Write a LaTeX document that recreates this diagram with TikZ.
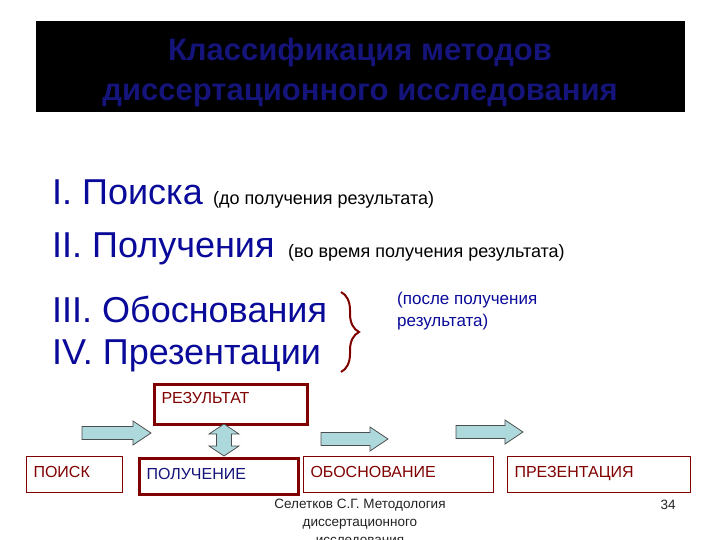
\documentclass[tikz,border=0pt]{standalone}
\usepackage{fontspec}
\setmainfont{Liberation Sans}
\usepackage{tikz}
\usetikzlibrary{positioning,decorations.pathreplacing}
\definecolor{navy}{HTML}{0A0A9A}
\definecolor{titlec}{HTML}{14147A}
\definecolor{darkred}{HTML}{800000}
\definecolor{arrowc}{HTML}{ADD8DC}
\definecolor{arrowline}{HTML}{4D4D4D}
\definecolor{footc}{HTML}{222222}
\newcommand{\blockarrow}[3]{%
  \filldraw[fill=arrowc,draw=arrowline,line width=0.8pt] (#1,{#3-6.5}) -- ({#2-18},{#3-6.5}) -- ({#2-18},{#3-12}) -- (#2,#3)
    -- ({#2-18},{#3+12}) -- ({#2-18},{#3+6.5}) -- (#1,{#3+6.5}) -- cycle;
}
\newcommand{\dblarrow}[3]{%
  \filldraw[fill=arrowc,draw=arrowline,line width=0.8pt] (#1,#2) -- ({#1+15},{#2+10}) -- ({#1+7.5},{#2+10}) -- ({#1+7.5},{#3-10})
    -- ({#1+15},{#3-10}) -- (#1,#3) -- ({#1-15},{#3-10}) -- ({#1-7.5},{#3-10}) -- ({#1-7.5},{#2+10}) -- ({#1-15},{#2+10}) -- cycle;
}
\tikzset{
  item/.style={anchor=base west,inner sep=0pt,text=navy,font=\fontsize{36}{40}\selectfont},
  note/.style={anchor=base west,inner sep=0pt,text=black,font=\fontsize{18}{22}\selectfont},
  stage/.style={draw=darkred,line width=1pt,anchor=north west,minimum height=36pt,inner xsep=7pt,
    align=left,text width=#1,text=darkred,font=\fontsize{16}{18}\selectfont},
  brace/.style={darkred,line width=2pt,decorate,decoration={brace,amplitude=18pt}}
}

\begin{document}
\begin{tikzpicture}[x=1pt,y=-1pt]
  \useasboundingbox (0,0) rectangle (720,540);
  % title
  \fill[black] (36,21) rectangle (685,112);
  \node[align=center,text=titlec,font=\bfseries\fontsize{31}{40}\selectfont] (title) at (360,72)
    {Классификация методов\\диссертационного исследования};
  % list of groups
  \node[item] (poiska) at (52,205) {I. Поиска};
  \node[note] (poiskanote) at (213,205) {(до получения результата)};
  \node[item] (poluch) at (52,258) {II. Получения};
  \node[note] (poluchnote) at (288,258) {(во время получения результата)};
  \node[item] (obosn) at (52,322) {III. Обоснования};
  \node[item] (prez) at (52,364) {IV. Презентации};
  \draw[brace] (341,292) -- (341,372);
  \node[anchor=north west,align=left,inner sep=0pt,text=navy,font=\fontsize{17}{22}\selectfont] (posle) at (397,292)
    {(после получения\\результата)};
  % result and stages
  \node[stage=139pt,minimum height=40pt,text depth=14pt,line width=3pt] (res) at (153,383) {РЕЗУЛЬТАТ};
  \node[stage=82pt,text depth=6pt] (search) at (26,456) {ПОИСК};
  \node[stage=145pt,text depth=6pt,line width=3pt,text=titlec] (obtain) at (138,457) {ПОЛУЧЕНИЕ};
  \node[stage=176pt,text depth=6pt] (ground) at (303,456) {ОБОСНОВАНИЕ};
  \node[stage=169pt,text depth=6pt] (present) at (507,456) {ПРЕЗЕНТАЦИЯ};
  % block arrows
  \foreach \xa/\xb/\yc in {82/151/433,321/388/439,456/523/432} {\blockarrow{\xa}{\xb}{\yc}}
  \dblarrow{224}{424}{456}
  % footer
  \node[anchor=north,align=center,text=footc,font=\fontsize{13.5}{18}\selectfont] (foot) at (360,496)
    {Селетков С.Г. Методология\\диссертационного\\исследования};
  \node[text=footc,font=\fontsize{13.5}{18}\selectfont] (page) at (668,505) {34};
\end{tikzpicture}
\end{document}
